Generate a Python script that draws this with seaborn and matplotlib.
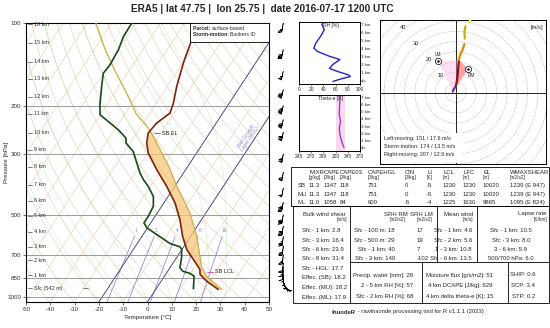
import numpy as np
import pandas as pd
import matplotlib
matplotlib.use("Agg")
import matplotlib.pyplot as plt
from matplotlib.patches import Rectangle, Polygon
import seaborn as sns

sns.set_theme(style="white")
plt.rcParams['font.family'] = ['Liberation Sans', 'DejaVu Sans']
plt.rcParams['axes.unicode_minus'] = False

# ---------------- data ----------------
title = "ERA5 | lat 47.75 |  lon 25.75 |  date 2016-07-17 1200 UTC"

p_env = [935.7, 872.9, 825.3, 791.5, 759.0, 669.4, 598.8, 520.6, 452.7, 393.9, 342.5,
         297.8, 273.9, 251.9, 231.6, 213.0, 195.9, 170.5, 140.1, 115.3, 100.0]
t_env = [25.7, 18.7, 14.2, 12.8, 10.1, 2.0, -3.3, -8.9, -15.4, -23.3, -31.9,
         -39.9, -43.2, -45.3, -44.5, -41.7, -43.0, -46.1, -49.7, -52.5, -54.9]

p_dew = [930.3, 837.2, 818.5, 803.0, 780.2, 717.6, 669.4, 654.5, 636.6, 590.3, 558.1,
         535.3, 506.5, 465.8, 428.4, 393.9, 372.4, 352.1, 293.9, 273.9, 262.7, 245.0,
         216.1, 198.7, 170.5, 152.4, 142.2, 125.4, 112.2, 100.0]
t_dew = [15.3, 12.2, 9.8, 6.2, 4.1, 2.1, -0.1, -1.5, -6.5, -14.4, -20.3,
         -22.8, -22.8, -23.4, -26.1, -30.9, -34.7, -37.9, -46.5, -51.7, -53.1, -58.5,
         -70.0, -72.8, -77.0, -79.9, -79.4, -80.0, -81.5, -81.7]

p_parcel = [935.7, 837.2, 780.2, 708.1, 598.8, 492.2, 394.9, 342.5, 323.0, 259.2,
            241.5, 214.2, 180.0, 150.0, 125.0, 100.0]
t_parcel = [27.1, 17.4, 13.1, 9.2, 2.5, -6.6, -19.0, -26.4, -29.6, -42.3,
            -46.6, -55.5, -65.0, -75.5, -85.5, -96.5]

height_labels = ["16 km", "15 km", "14 km", "13 km", "12 km", "11 km", "10 km", "9 km",
                 "8 km", "7 km", "6 km", "5 km", "4 km", "3 km", "2 km", "1 km", "Sfc (542 m)"]
height_p = [101, 118.2, 138.6, 159.8, 185.8, 214.3, 251.3, 289.7, 334.0, 388.4, 444.1,
            503.5, 575.7, 652.8, 734.0, 832.2, 927.9]

mixr_values = [1, 2, 4, 8, 16]
p_ticks = [100, 200, 300, 500, 700, 850, 1000]
t_ticks = list(range(-50, 51, 10))

# wind profile
p_wind = [925, 900, 875, 850, 825, 800, 775, 750, 700, 650, 600, 550, 500, 450, 400,
          350, 300, 250, 225, 200, 175, 150, 125, 100]
h_wind = [0.03, 0.25, 0.5, 0.8, 1.05, 1.3, 1.6, 1.9, 2.4, 3.0, 3.7, 4.3, 5.0, 5.9, 6.8,
          7.7, 8.8, 10.0, 10.7, 11.6, 12.6, 13.6, 14.8, 16.2]
u_wind = [-1.5, -1.2, -0.8, -0.3, 0.0, 0.4, 0.7, 0.9, 1.2, 1.5, 2.0, 2.7, 3.5, 4.2, 4.4,
          4.2, 4.7, 6.5, 7.2, 8.0, 7.5, 6.0, 4.0, 2.0]
v_wind = [0.5, 1.2, 2.0, 2.6, 3.2, 5.0, 7.0, 9.0, 12.5, 16.0, 18.2, 19.8, 21.5, 23.8, 26.5,
          30.0, 32.5, 34.5, 35.8, 37.5, 34.0, 28.0, 20.0, 12.0]

# storm motions (direction, speed)
lm_dir, lm_spd = 151, 17.6
sm_dir, sm_spd = 174, 13.5
rm_dir, rm_spd = 207, 12.9

# RH profile
rh_h = [0.0, 0.33, 0.6, 0.8, 1.2, 1.6, 2.1, 2.7, 3.1, 3.7, 4.1, 4.7, 5.6, 6.4, 7.0, 7.3]
rh_val = [55.7, 70.0, 84.0, 81.3, 64.2, 50.0, 55.7, 67.0, 50.0, 30.1, 24.4, 27.3, 35.8, 41.5, 37.5, 38.6]

# theta-e profile
te_h = [0.0, 0.9, 1.9, 2.8, 3.7, 4.7, 7.0, 7.4]
te_val = [337.3, 332.4, 328.8, 327.4, 330.2, 327.4, 328.8, 329.0]

# tables
table_cols = ["MIXR", "CAPE", "CAPE03", "CAPEHGL", "CIN", "LI", "LCL", "LFC", "EL", "WMAXSHEAR"]
table_units = ["[g/kg]", "[J/kg]", "[J/kg]", "[J/kg]", "[J/kg]", "[K]", "[m]", "[m]", "[m]", "[m2/s2]"]
table_rows = ["SB", "MU", "ML"]
table_vals = [["11.3", "1347", "118", "751", "0", "-5", "1230", "1230", "10020", "1239 (E 947)"],
              ["11.3", "1347", "118", "751", "0", "-5", "1230", "1230", "10020", "1239 (E 947)"],
              ["11.0", "1058", "84", "600", "-5", "-4", "1225", "1630", "9865", "1095 (E 824)"]]
shear_lines = ["Sfc - 1 km: 2.8", "Sfc - 3 km: 16.4", "Sfc - 6 km: 23.9", "Sfc - 8 km: 31.4",
               "Sfc - HGL: 17.7", "Effec. (SB): 18.2", "Effec. (MU): 18.2", "Effec. (ML): 17.9"]
srh_rm = ["Sfc - 100 m: 18", "Sfc - 500 m: 29", "Sfc - 1 km: 40", "Sfc - 3 km: 140"]
srh_lm = ["17", "19", "7", "-102"]
mean_wind = ["Sfc - 1 km: 4.6", "Sfc - 2 km: 5.6", "1 - 3 km: 10.8", "Sfc - 6 km: 13.5"]
lapse = ["Sfc - 1 km: 10.5", "Sfc - 3 km: 8.0", "3 - 6 km: 5.9", "500/700 hPa: 6.0"]
moist1 = ["Precip. water [mm]: 28", "2 - 5 km RH [%]: 57", "Sfc - 2 km RH [%]: 68"]
moist2 = ["Moisture flux [g/s/m2]: 51", "4 km DCAPE [J/kg]: 629", "4 km delta theta-e [K]: 15"]
comp = ["SHIP: 0.6", "SCP: 3.4", "STP: 0.2"]

# ---------------- helpers ----------------
P_BOT, P_TOP, K = 1040.0, 100.0, 32.14


def skew(t, p):
    return np.asarray(t) + K * np.log(P_BOT / np.asarray(p))


def moist_adiabat(t0, p):
    Rd, cp, L, eps = 287.04, 1005.7, 2.501e6, 0.622

    def f(T, pp):
        tc = T - 273.15
        es = 6.112 * np.exp(17.67 * tc / (tc + 243.5))
        rs = eps * es / (pp - es)
        return (Rd * T + L * rs) / (pp * (cp + L * L * rs * eps / (Rd * T * T)))
    T = t0 + 273.15
    out = [T]
    for i in range(1, len(p)):
        dp = p[i] - p[i - 1]
        k1 = f(T, p[i - 1])
        k2 = f(T + k1 * dp, p[i])
        T = T + 0.5 * (k1 + k2) * dp
        out.append(T)
    return np.array(out) - 273.15


def td_from_w(w, p):
    e = w * p / (622.0 + w)
    a = np.log(e / 6.112)
    return 243.5 * a / (17.67 - a)


W, H = 550, 328
fig = plt.figure(figsize=(5.5, 3.28), dpi=100)


def frac(x0, y0, x1, y1):
    return [x0 / W, 1 - y1 / H, (x1 - x0) / W, (y1 - y0) / H]


FS = 4.3
tan = "#e6d6bc"

# ---------------- skew-T ----------------
ax = fig.add_axes(frac(26, 23, 269, 302))
ax.set_yscale('log')
pp = np.geomspace(P_BOT, P_TOP, 200)
for T in range(-170, 60, 10):
    ax.plot(skew(T, pp), pp, color=tan, lw=0.5, zorder=1)
for th in range(230, 520, 10):
    tt = th * (pp / 1000.0) ** 0.2857 - 273.15
    ax.plot(skew(tt, pp), pp, color=tan, lw=0.5, zorder=1)
for t0 in [-20, -10, 0, 10, 20, 26, 32]:
    tt = moist_adiabat(t0, pp)
    ax.plot(skew(tt, pp), pp, color="#a8d8a8", lw=0.55, ls=(0, (1, 1.5)), zorder=1)
pm = np.geomspace(P_BOT, 600, 50)
for w in mixr_values:
    tdw = td_from_w(w, pm)
    ax.plot(skew(tdw, pm), pm, color="#8c86c8", lw=0.55, zorder=2)
    ax.text(skew(tdw[-1], 585), 585, str(w), color="#8c86c8", fontsize=3.5,
            ha='center', va='bottom')
for T in [0, -20]:
    ax.plot(skew(T, pp), pp, color="#3a3a88", lw=0.6, zorder=2)
for p in p_ticks:
    ax.axhline(p, color="#8a8a8a", lw=0.6, zorder=2)

# CAPE fill
pf = np.geomspace(935.7, 100, 400)
te_i = np.interp(np.log(pf), np.log(p_env[::-1]), t_env[::-1])
tp_i = np.interp(np.log(pf), np.log(p_parcel[::-1]), t_parcel[::-1])
ax.fill_betweenx(pf, skew(te_i, pf), skew(tp_i, pf), where=tp_i > te_i,
                 color="#f7c77a", alpha=0.75, lw=0, zorder=3)

df_env = pd.DataFrame({"p": p_env, "x": skew(t_env, p_env)})
df_dew = pd.DataFrame({"p": p_dew, "x": skew(t_dew, p_dew)})
df_par = pd.DataFrame({"p": p_parcel, "x": skew(t_parcel, p_parcel)})
sns.lineplot(data=df_par, x="x", y="p", sort=False, estimator=None, color="#c6b24a",
             lw=0.9, ax=ax, zorder=4)
sns.lineplot(data=df_env, x="x", y="p", sort=False, estimator=None, color="#7a2410",
             lw=1.2, ax=ax, zorder=5)
sns.lineplot(data=df_dew, x="x", y="p", sort=False, estimator=None, color="#164a16",
             lw=1.2, ax=ax, zorder=5)

ax.set_xlim(-50, 50)
ax.set_ylim(P_BOT, P_TOP)
ax.set_yticks(p_ticks)
ax.set_yticklabels([str(p) for p in p_ticks])
ax.yaxis.set_minor_locator(matplotlib.ticker.NullLocator())
ax.set_xticks(t_ticks)
ax.set_xticklabels([str(t) for t in t_ticks])
ax.tick_params(labelsize=4.5, length=2, width=0.5, pad=1.5, direction='out',
               bottom=True, left=True, colors='#333333')
ax.set_xlabel("Temperature [°C]", fontsize=4.5, labelpad=2)
ax.set_ylabel("Pressure [hPa]", fontsize=4.5)
ax.yaxis.set_label_coords(-0.068, 0.5)
for s in ax.spines.values():
    s.set_linewidth(0.8)
    s.set_color('black')

for lab, p in zip(height_labels, height_p):
    xs = -49.2
    ax.plot([xs, xs + 1.8], [p, p], color='#444444', lw=0.5, zorder=6)
    ax.text(xs + 2.6, p, lab, fontsize=4.0, va='center', ha='left', color='#333333', zorder=6)
ax.plot([-26.5, -24.5], [927.9, 927.9], color='#444444', lw=0.5, zorder=6)

# EL & LCL annotations
ax.plot([2.5, 5.0], [251.9, 251.9], color='#444444', lw=0.5, zorder=6)
ax.text(5.8, 251.9, "SB EL", fontsize=4.0, va='center', color='#222222', zorder=6)
ax.plot([24.5, 27.0], [806, 806], color='#cc2288', lw=0.5, zorder=6)
ax.text(27.8, 806, "SB LCL", fontsize=4.0, va='center', color='#222222', zorder=6)

ax.text(41.5, 262, "Wet Growth\nLayer (WGL)", fontsize=3.6, color="#8c86c8",
        rotation=56, ha='center', va='center', zorder=6, linespacing=1.0)

# ---------------- wind barbs ----------------
axb = fig.add_axes(frac(269, 23, 292, 302))
axb.set_yscale('log')
axb.set_ylim(P_BOT, P_TOP)
axb.set_xlim(0, 1)
axb.axis('off')
kt = 1.94384
axb.barbs(np.full(len(p_wind), 0.62), p_wind, np.array(u_wind) * kt, np.array(v_wind) * kt,
          length=3.6, linewidth=0.4, color='black', sizes=dict(emptybarb=0, spacing=0.14, height=0.4))

# ---------------- RH panel ----------------
axr = fig.add_axes(frac(299, 22, 360, 84))
df_rh = pd.DataFrame({"h": rh_h, "rh": rh_val})
sns.lineplot(data=df_rh, x="rh", y="h", sort=False, estimator=None, color="#2424c8", lw=1.0, ax=axr)
axr.set_xlim(0, 100)
axr.set_ylim(-0.32, 7.33)
axr.set_xticks([0, 20, 40, 60, 80, 100])
axr.set_yticks([])
axr.set_xlabel("")
axr.set_ylabel("")
axr.tick_params(labelsize=3.5, length=1.5, width=0.4, pad=1, bottom=True)
for s in axr.spines.values():
    s.set_linewidth(0.7)
    s.set_color('black')
axr.text(40, 6.9, "RH [%]", fontsize=3.6, va='center', ha='left')
for k, lab in enumerate(["sfc", "1 km", "2 km", "3 km", "4 km", "5 km", "6 km", "7 km"]):
    axr.text(102, k, lab, fontsize=3.2, va='center', ha='left', clip_on=False)

# ---------------- theta-e panel ----------------
axt = fig.add_axes(frac(299, 95, 360, 151))
axt.axvspan(320, 340, color="#f8d0ea", alpha=0.8, lw=0)
df_te = pd.DataFrame({"h": te_h, "te": te_val})
sns.lineplot(data=df_te, x="te", y="h", sort=False, estimator=None, color="#9a3cd2", lw=1.0, ax=axt)
axt.set_xlim(245, 370)
axt.set_ylim(-0.47, 7.47)
axt.set_xticks([245, 270, 295, 320, 345, 370])
axt.set_yticks([])
axt.set_xlabel("")
axt.set_ylabel("")
axt.tick_params(labelsize=3.5, length=1.5, width=0.4, pad=1, bottom=True)
for s in axt.spines.values():
    s.set_linewidth(0.7)
    s.set_color('black')
axt.text(309, 7.0, "Theta-e [K]", fontsize=3.6, va='center', ha='center')
for k, lab in enumerate(["sfc", "1 km", "2 km", "3 km", "4 km", "5 km", "6 km", "7 km"]):
    axt.text(372, k, lab, fontsize=3.2, va='center', ha='left', clip_on=False)

# ---------------- hodograph ----------------
axh = fig.add_axes(frac(380, 20, 546, 164))
ang = np.linspace(0, 2 * np.pi, 200)
for r in range(5, 80, 5):
    axh.plot(r * np.cos(ang), r * np.sin(ang), color="#a8a8a8", lw=0.45, ls=(0, (1.5, 1.5)), zorder=1)
axh.axhline(0, color='black', lw=0.6, zorder=2)
axh.axvline(0, color='black', lw=0.6, zorder=2)
for r in [10, 20, 30, 40]:
    axh.text(-r * 0.62 - 1, r * 0.78 + 0.5, str(r), fontsize=4.0, ha='center', va='center')
axh.text(42.5, 33, "[m/s]", fontsize=4.2, ha='right', va='top')


def uv(d, s):
    return -s * np.sin(np.radians(d)), -s * np.cos(np.radians(d))


ulm, vlm = uv(lm_dir, lm_spd)
urm, vrm = uv(rm_dir, rm_spd)
usm, vsm = uv(sm_dir, sm_spd)
hw = np.array(h_wind)
uw = np.array(u_wind)
vw = np.array(v_wind)
m3 = hw <= 3.05
axh.add_patch(Polygon(np.column_stack([np.r_[ulm, uw[m3]], np.r_[vlm, vw[m3]]]),
                      closed=True, facecolor="#ffb0e6", alpha=0.4, lw=0, zorder=3))
axh.add_patch(Polygon(np.column_stack([np.r_[urm, uw[m3]], np.r_[vrm, vw[m3]]]),
                      closed=True, facecolor="#ff6a6a", alpha=0.6, edgecolor="#ff9bd0", lw=0.6, zorder=3))
segs = [(0, 1.05, "#6a2bb8"), (1.05, 3.0, "#8b1515"), (3.0, 6.0, "#e08a00"),
        (6.0, 9.0, "#c8b000"), (9.0, 12.0, "#f2f22a")]
for h0, h1, c in segs:
    m = (hw >= h0 - 1e-6) & (hw <= h1 + 1e-6)
    axh.plot(uw[m], vw[m], color=c, lw=1.6, zorder=6, solid_capstyle='round')
for (u0, v0, lab, dx, dy) in [(ulm, vlm, "LM", 0, 3.2), (urm, vrm, "RM", 1.5, -3.0)]:
    axh.plot(u0, v0, marker='o', ms=4.5, mfc='white', mec='black', mew=0.5, zorder=7)
    axh.plot(u0, v0, marker='.', ms=1.5, color='black', zorder=8)
    axh.text(u0 + dx, v0 + dy, lab, fontsize=3.3, ha='center', va='center', zorder=8)
axh.set_xlim(-37, 44)
axh.set_ylim(-35, 35.6)
axh.set_xticks([])
axh.set_yticks([])
for s in axh.spines.values():
    s.set_linewidth(0.7)
    s.set_color('black')
axh.add_patch(Rectangle((-36.5, -34.5), 40, 14.5, facecolor='white', edgecolor='none', zorder=8))
for k, txt in enumerate([f"Left-moving: {lm_dir} / {lm_spd} m/s",
                         f"Storm-motion: {sm_dir} / {sm_spd} m/s",
                         f"Right-moving: {rm_dir} / {rm_spd} m/s"]):
    axh.text(-35, -22.3 - k * 4.0, txt, fontsize=4.0, ha='left', va='center', zorder=9)

# ---------------- overlay (tables, texts) ----------------
ov = fig.add_axes([0, 0, 1, 1])
ov.set_xlim(0, W)
ov.set_ylim(H, 0)
ov.axis('off')
ov.set_zorder(10)
ov.patch.set_visible(False)

fig.text(262.5 / W, 1 - 8.5 / H, title, fontsize=7.2, fontweight='bold', ha='center', va='center')

ov.add_patch(Rectangle((190, 23), 79, 19, facecolor='white', edgecolor='black', lw=0.6, zorder=1))
fig.canvas.draw()
rend = fig.canvas.get_renderer()


def rich(x, y, bold, normal, fs, ha_center=False):
    t1 = ov.text(x, y, bold, fontsize=fs, fontweight='bold', ha='left', va='center', zorder=3)
    bb = t1.get_window_extent(renderer=rend)
    t2 = ov.text(x, y, normal, fontsize=fs, ha='left', va='center', zorder=3)
    bb2 = t2.get_window_extent(renderer=rend)
    wb = bb.width
    if ha_center:
        tot = wb + bb2.width
        x0 = x - tot / 2
        t1.set_x(x0)
        t2.set_x(x0 + wb)
    else:
        t2.set_x(x + wb)


rich(193, 28, "Parcel: ", "surface-based", 3.7)
rich(193, 35, "Storm-motion: ", "Bunkers ID", 3.7)

ov.add_patch(Rectangle((291, 167), 258, 38.5, facecolor='none', edgecolor='black', lw=0.6))
col_x = [309, 324, 340, 368, 405, 427, 443, 463, 483, 510]
for cx, c, u in zip(col_x, table_cols, table_units):
    ov.text(cx, 172, c, fontsize=FS, ha='left', va='center')
    ov.text(cx, 177.5, u, fontsize=3.4, ha='left', va='center')
for r, (rn, vals) in enumerate(zip(table_rows, table_vals)):
    yy = 185.5 + r * 8.6
    ov.text(298, yy, rn, fontsize=FS, ha='left', va='center')
    for cx, v in zip(col_x, vals):
        ov.text(cx, yy, v, fontsize=FS, ha='left', va='center')

lw_b = 0.6
ov.add_patch(Rectangle((293, 205.5), 256, 97.5, facecolor='none', edgecolor='black', lw=lw_b))
ov.plot([350, 350], [205.5, 303], color='black', lw=lw_b)
ov.plot([437, 437], [205.5, 262], color='black', lw=lw_b)
ov.plot([477, 477], [205.5, 262], color='black', lw=lw_b)
ov.plot([350, 549], [262, 262], color='black', lw=lw_b)
ov.plot([422, 422], [262, 303], color='black', lw=lw_b)
ov.plot([508, 508], [262, 303], color='black', lw=lw_b)

ov.text(303, 214, "Bulk wind shear", fontsize=FS, ha='left', va='center')
ov.text(347, 220, "[m/s]", fontsize=3.4, ha='right', va='center')
rows_y = [231, 240, 249.3, 258.3, 268, 278, 288, 298]
for yy, t in zip(rows_y, shear_lines):
    ov.text(302, yy, t, fontsize=FS, ha='left', va='center')

ov.text(408, 214, "SRH RM", fontsize=FS, ha='right', va='center')
ov.text(405, 220, "[m2/s2]", fontsize=3.4, ha='right', va='center')
ov.text(433, 214, "SRH LM", fontsize=FS, ha='right', va='center')
ov.text(432, 220, "[m2/s2]", fontsize=3.4, ha='right', va='center')
for yy, t, t2 in zip(rows_y[:4], srh_rm, srh_lm):
    ov.text(395, yy, t, fontsize=FS, ha='right', va='center')
    ov.text(417, yy, t2, fontsize=FS, ha='left', va='center')

ov.text(473, 214, "Mean wind", fontsize=FS, ha='right', va='center')
ov.text(473, 220, "[m/s]", fontsize=3.4, ha='right', va='center')
for yy, t in zip(rows_y[:4], mean_wind):
    ov.text(472, yy, t, fontsize=FS, ha='right', va='center')

ov.text(547, 214, "Lapse rate", fontsize=FS, ha='right', va='center')
ov.text(547, 220, "[K/km]", fontsize=3.4, ha='right', va='center')
for yy, t in zip(rows_y[:4], lapse):
    ov.text(511, yy, t, fontsize=FS, ha='center', va='center')

for k, (a, b, c) in enumerate(zip(moist1, moist2, comp)):
    yy = 275 + k * 10.8
    ov.text(413, yy, a, fontsize=FS, ha='right', va='center')
    ov.text(493, yy, b, fontsize=FS, ha='right', va='center')
    ov.text(535, yy, c, fontsize=FS, ha='right', va='center')

rich(408, 312, "thundeR", " - rawinsonde processing tool for R v1.1.1 (2023)", 4.2, ha_center=True)

fig.savefig("out.png", dpi=100)
